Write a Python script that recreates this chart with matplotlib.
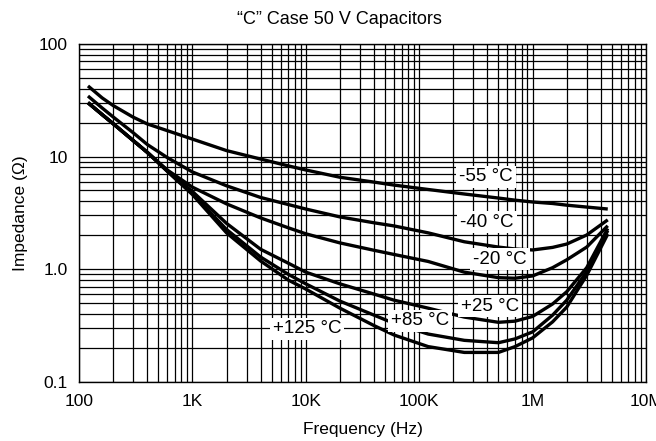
import matplotlib
matplotlib.use("Agg")
import matplotlib.pyplot as plt
from matplotlib.ticker import FixedLocator, FixedFormatter, LogLocator, NullFormatter

plt.rcParams['font.family'] = ['Liberation Sans', 'DejaVu Sans']

freq = [120, 160, 200, 300, 400, 600, 1e3, 2e3, 4e3, 7e3, 1e4, 2e4, 4e4, 6e4,
        1.2e5, 2.5e5, 5e5, 7e5, 1e6, 1.5e6, 2e6, 3e6, 4.6e6]

z_m55 = [42.4, 33.2, 28.4, 22.4, 19.5, 17.0, 14.3, 11.3, 9.5, 8.27, 7.6, 6.55, 5.93, 5.58,
         5.1, 4.65, 4.28, 4.1, 3.95, 3.83, 3.7, 3.56, 3.42]
z_m40 = [34.5, 27.0, 22.5, 16.3, 12.8, 9.8, 7.3, 5.5, 4.33, 3.75, 3.42, 2.91, 2.58, 2.42,
         2.1, 1.75, 1.57, 1.51, 1.48, 1.56, 1.67, 2.01, 2.74]
z_m20 = [30.1, 23.6, 19.6, 13.9, 10.9, 7.6, 5.35, 3.8, 2.85, 2.33, 2.06, 1.71, 1.47, 1.35,
         1.17, 0.94, 0.84, 0.83, 0.87, 1.03, 1.21, 1.57, 2.43]
z_p25 = [30.1, 23.6, 19.6, 13.9, 10.9, 7.5, 4.9, 2.55, 1.5, 1.13, 0.94, 0.74, 0.6, 0.53,
         0.45, 0.375, 0.337, 0.345, 0.38, 0.49, 0.63, 1.03, 2.3]
z_p85 = [30.1, 23.6, 19.6, 13.9, 10.9, 7.45, 4.7, 2.25, 1.28, 0.9, 0.74, 0.52, 0.39, 0.33,
         0.265, 0.233, 0.222, 0.24, 0.277, 0.39, 0.53, 0.95, 2.2]
z_p125 = [30.1, 23.6, 19.6, 13.9, 10.9, 7.4, 4.6, 2.1, 1.18, 0.8, 0.665, 0.45, 0.315, 0.26,
          0.205, 0.182, 0.182, 0.205, 0.245, 0.34, 0.46, 0.88, 2.05]

series = [z_m55, z_m40, z_m20, z_p25, z_p85, z_p125]

labels = ["-55 °C", "-40 °C", "-20 °C", "+25 °C", "+85 °C", "+125 °C"]
label_f = [388e3, 396e3, 516e3, 421e3, 102e3, 10.3e3]
label_z = [6.59, 2.62, 1.23, 0.47, 0.347, 0.294]

xticks = [1e2, 1e3, 1e4, 1e5, 1e6, 1e7]
xticklabels = ["100", "1K", "10K", "100K", "1M", "10M"]
yticks = [0.1, 1, 10, 100]
yticklabels = ["0.1", "1.0", "10", "100"]

fig = plt.figure(figsize=(6.56, 4.41), dpi=100)
ax = fig.add_axes([79/656, 1 - 381.7/441, (646 - 79)/656, (381.7 - 44)/441])
ax.set_xscale('log')
ax.set_yscale('log')
ax.set_xlim(1e2, 1e7)
ax.set_ylim(0.1, 100)

ax.xaxis.set_major_locator(FixedLocator(xticks))
ax.xaxis.set_major_formatter(FixedFormatter(xticklabels))
ax.yaxis.set_major_locator(FixedLocator(yticks))
ax.yaxis.set_major_formatter(FixedFormatter(yticklabels))
ax.xaxis.set_minor_locator(LogLocator(base=10, subs=range(2, 10)))
ax.yaxis.set_minor_locator(LogLocator(base=10, subs=range(2, 10)))
ax.xaxis.set_minor_formatter(NullFormatter())
ax.yaxis.set_minor_formatter(NullFormatter())
ax.tick_params(which='both', length=0, labelsize=12.5, colors='black')
ax.tick_params(axis='x', pad=9)
ax.tick_params(axis='y', pad=8)

ax.grid(True, which='both', color='black', linewidth=0.9)
ax.set_axisbelow(True)
for s in ax.spines.values():
    s.set_color('black')
    s.set_linewidth(1.0)

for z in series:
    ax.plot(freq, z, color='black', linewidth=2.4, solid_capstyle='butt',
            solid_joinstyle='round', zorder=3)

for t, f, z in zip(labels, label_f, label_z):
    ax.text(f, z, t, ha='center', va='center', fontsize=13.5, zorder=5,
            bbox=dict(facecolor='white', edgecolor='none', pad=2.0))

ax.set_xlabel("Frequency (Hz)", fontsize=12.5, labelpad=9)
ax.set_ylabel("Impedance (Ω)", fontsize=12.5, labelpad=8)
fig.text(339/656, 1 - 19/441, "\u201cC\u201d Case 50 V Capacitors", ha='center',
         va='center', fontsize=13)

fig.savefig("out.png", dpi=100)
